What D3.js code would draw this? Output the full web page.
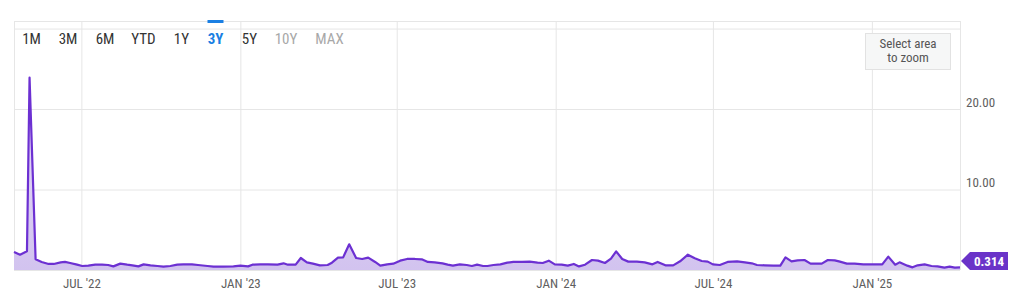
<!DOCTYPE html>
<html>
<head>
<meta charset="utf-8">
<script src="https://cdn.jsdelivr.net/npm/d3@7/dist/d3.min.js"></script>
<style>
  html, body { margin: 0; padding: 0; background: #fff; }
  svg { display: block; }
  .narrow { font-family: "Liberation Sans Narrow", "Roboto Condensed", "DejaVu Sans Condensed", Roboto, sans-serif; }
</style>
</head>
<body>
<script>
// ---------------- data ----------------
const dates = [
 "2022-04-14","2022-04-21","2022-04-29","2022-05-02","2022-05-09","2022-05-16","2022-05-24","2022-05-30",
 "2022-06-07","2022-06-12","2022-06-18","2022-06-26","2022-07-02","2022-07-09","2022-07-17","2022-07-25",
 "2022-08-01","2022-08-07","2022-08-15","2022-08-23","2022-08-29","2022-09-05","2022-09-11","2022-09-19",
 "2022-09-27","2022-10-04","2022-10-12","2022-10-20","2022-10-27","2022-11-06","2022-11-13","2022-11-24",
 "2022-12-01","2022-12-12","2022-12-24","2023-01-01","2023-01-10","2023-01-15","2023-01-24","2023-02-02",
 "2023-02-13","2023-02-20","2023-02-25","2023-03-06","2023-03-12","2023-03-19","2023-03-26","2023-04-03",
 "2023-04-12","2023-04-17","2023-04-24","2023-04-30","2023-05-07","2023-05-15","2023-05-22","2023-05-29",
 "2023-06-06","2023-06-12","2023-06-20","2023-06-27","2023-07-05","2023-07-13","2023-07-22","2023-07-30",
 "2023-08-06","2023-08-14","2023-08-23","2023-08-29","2023-09-04","2023-09-12","2023-09-20","2023-09-26",
 "2023-10-02","2023-10-09","2023-10-14","2023-10-21","2023-10-29","2023-11-06","2023-11-13","2023-11-23",
 "2023-12-02","2023-12-11","2023-12-17","2023-12-24","2023-12-31","2024-01-08","2024-01-15","2024-01-22",
 "2024-01-28","2024-02-04","2024-02-12","2024-02-19","2024-02-27","2024-03-05","2024-03-11","2024-03-18",
 "2024-03-25","2024-04-04","2024-04-13","2024-04-22","2024-04-28","2024-05-07","2024-05-16","2024-05-24",
 "2024-06-02","2024-06-10","2024-06-18","2024-06-25","2024-07-01","2024-07-09","2024-07-18","2024-07-29",
 "2024-08-07","2024-08-15","2024-08-21","2024-08-30","2024-09-09","2024-09-17","2024-09-23","2024-09-30",
 "2024-10-07","2024-10-15","2024-10-22","2024-10-29","2024-11-04","2024-11-11","2024-11-19","2024-11-25",
 "2024-12-03","2024-12-12","2024-12-22","2025-01-01","2025-01-13","2025-01-20","2025-01-28","2025-02-02",
 "2025-02-11","2025-02-17","2025-02-23","2025-03-03","2025-03-11","2025-03-18","2025-03-26","2025-04-01",
 "2025-04-07","2025-04-13"
];
const values = [
 2.24,1.9,2.32,23.9,1.33,1.0,0.75,0.75,
 0.95,1.0,0.87,0.66,0.5,0.54,0.66,0.66,
 0.62,0.45,0.79,0.66,0.58,0.45,0.7,0.58,
 0.5,0.41,0.5,0.66,0.7,0.7,0.62,0.5,
 0.41,0.41,0.45,0.54,0.45,0.66,0.7,0.7,
 0.66,0.83,0.66,0.66,1.49,0.95,0.79,0.58,
 0.62,0.91,1.53,1.57,3.19,1.49,1.37,1.53,
 1.0,0.54,0.7,0.79,1.16,1.37,1.37,1.33,
 1.0,0.95,0.83,0.66,0.54,0.7,0.62,0.5,
 0.66,0.5,0.5,0.62,0.7,0.91,1.0,1.0,
 1.04,0.91,0.87,1.16,0.7,0.66,0.54,0.75,
 0.45,0.66,1.24,1.16,0.87,1.41,2.32,1.37,
 1.04,1.04,0.95,0.7,1.0,0.58,0.58,1.08,
 1.9,1.45,1.12,1.04,0.7,0.62,1.0,1.08,
 0.95,0.83,0.62,0.58,0.54,0.54,1.57,1.08,
 1.2,1.24,0.79,0.79,0.79,1.24,1.2,1.04,
 0.79,0.79,0.7,0.7,0.7,1.66,0.66,0.95,
 0.54,0.33,0.58,0.7,0.5,0.45,0.29,0.41,
 0.29,0.314
];
const xTickDates = ["2022-07-01","2023-01-01","2023-07-01","2024-01-01","2024-07-01","2025-01-01"];
const xTickLabels = ["JUL '22","JAN '23","JUL '23","JAN '24","JUL '24","JAN '25"];
const yLabelTicks = [10, 20];
const yGridTicks = [10, 20, 30];
const rangeButtons = ["1M","3M","6M","YTD","1Y","3Y","5Y","10Y","MAX"];
const activeButton = "3Y";
const disabledButtons = ["10Y","MAX"];
const zoomHint = ["Select area", "to zoom"];
const lastLabel = "0.314";

// ---------------- layout ----------------
const W = 1013, H = 306;
const plot = { left: 14, right: 960, top: 21, bottom: 270 };
const buttonCenters = [31.5, 68, 105, 143.5, 181.5, 215.5, 249.5, 286, 329.5];
const lineColor = "#6c30d2";

const parse = d3.utcParse("%Y-%m-%d");
const data = dates.map((d, i) => ({ date: parse(d), value: values[i] }));

const svg = d3.select("body").append("svg").attr("width", W).attr("height", H);

const x = d3.scaleUtc()
  .domain([parse("2022-04-14"), parse("2025-04-13")])
  .range([plot.left, plot.right]);
const y = d3.scaleLinear().domain([0, 31]).range([plot.bottom, 20.5]);

// gradient for the area
const defs = svg.append("defs");
const grad = defs.append("linearGradient").attr("id", "areaGrad")
  .attr("gradientUnits", "userSpaceOnUse")
  .attr("x1", 0).attr("y1", plot.top).attr("x2", 0).attr("y2", plot.bottom);
grad.append("stop").attr("offset", "0%").attr("stop-color", "#ece5fa");
grad.append("stop").attr("offset", "100%").attr("stop-color", "#d2c3ef");

// horizontal grid
svg.append("g")
  .attr("transform", `translate(${plot.left},0)`)
  .call(d3.axisLeft(y).tickValues(yGridTicks).tickSize(-(plot.right - plot.left)).tickFormat(""))
  .call(g => g.select(".domain").remove())
  .call(g => g.selectAll("line").attr("stroke", "#e6e6e6"));

// vertical grid
svg.append("g")
  .attr("transform", `translate(0,${plot.bottom})`)
  .call(d3.axisBottom(x).tickValues(xTickDates.map(parse)).tickSize(-(plot.bottom - plot.top)).tickFormat(""))
  .call(g => g.select(".domain").remove())
  .call(g => g.selectAll("line").attr("stroke", "#e6e6e6"));

// frame lines (top, left, right, bottom)
const frame = svg.append("g").attr("stroke", "#e6e6e6").attr("fill", "none");
frame.append("line").attr("x1", plot.left).attr("x2", plot.right + 1).attr("y1", plot.top + 0.5).attr("y2", plot.top + 0.5);
frame.append("line").attr("x1", plot.left + 0.5).attr("x2", plot.left + 0.5).attr("y1", plot.top).attr("y2", plot.bottom);
frame.append("line").attr("x1", plot.right + 0.5).attr("x2", plot.right + 0.5).attr("y1", plot.top).attr("y2", plot.bottom);
frame.append("line").attr("x1", plot.left).attr("x2", plot.right).attr("y1", plot.bottom + 0.5).attr("y2", plot.bottom + 0.5);

// area + line
const area = d3.area().x(d => x(d.date)).y0(y(0)).y1(d => y(d.value));
const line = d3.line().x(d => x(d.date)).y(d => y(d.value));
svg.append("path").datum(data).attr("d", area).attr("fill", "url(#areaGrad)");
svg.append("path").datum(data).attr("d", line)
  .attr("fill", "none").attr("stroke", lineColor).attr("stroke-width", 2.2)
  .attr("stroke-linejoin", "round");

// bottom axis labels
svg.append("g")
  .attr("transform", `translate(0,${plot.bottom})`)
  .call(d3.axisBottom(x).tickValues(xTickDates.map(parse)).tickSize(0).tickPadding(9)
    .tickFormat((d, i) => xTickLabels[i]))
  .call(g => g.select(".domain").remove())
  .call(g => g.selectAll("text")
    .attr("class", "narrow")
    .attr("font-size", 13).attr("fill", "#606060"));

// right axis labels
svg.append("g")
  .attr("transform", `translate(${plot.right},0)`)
  .call(d3.axisRight(y).tickValues(yLabelTicks).tickSize(0).tickPadding(6).tickFormat(d3.format(".2f")))
  .call(g => g.select(".domain").remove())
  .call(g => g.selectAll("text")
    .attr("class", "narrow")
    .attr("dy", "-3").attr("font-size", 13).attr("fill", "#606060"));

// last value label
const lastY = Math.min(y(values[values.length - 1]), plot.bottom - 9);
const lbl = svg.append("g").attr("transform", `translate(${plot.right + 1},${lastY})`);
lbl.append("path")
  .attr("d", "M0,0 L9,-9 L47,-9 L47,9 L9,9 Z")
  .attr("fill", "#6a33c8");
lbl.append("text").attr("class", "narrow")
  .attr("x", 28).attr("y", 0).attr("dy", "0.36em")
  .attr("text-anchor", "middle").attr("font-size", 13).attr("font-weight", "bold")
  .attr("fill", "#fff").text(lastLabel);

// range selector buttons
const btns = svg.append("g");
rangeButtons.forEach((b, i) => {
  const active = b === activeButton;
  const disabled = disabledButtons.includes(b);
  btns.append("text").attr("class", "narrow")
    .attr("x", buttonCenters[i]).attr("y", 44)
    .attr("text-anchor", "middle").attr("font-size", 15)
    .attr("font-weight", active ? "bold" : "normal")
    .attr("fill", active ? "#1a7fe3" : disabled ? "#a8a8a8" : "#333")
    .text(b);
  if (active) {
    btns.append("rect").attr("x", buttonCenters[i] - 8).attr("y", 20)
      .attr("width", 16).attr("height", 3).attr("fill", "#1a7fe3");
  }
});

// zoom hint box
const hint = svg.append("g");
hint.append("rect").attr("x", 865.5).attr("y", 33.5).attr("width", 85).attr("height", 36)
  .attr("fill", "#f6f7f7").attr("stroke", "#e2e2e2");
zoomHint.forEach((t, i) => {
  hint.append("text").attr("class", "narrow")
    .attr("x", 908).attr("y", 48 + i * 14)
    .attr("text-anchor", "middle").attr("font-size", 13).attr("fill", "#555").text(t);
});
</script>
</body>
</html>
